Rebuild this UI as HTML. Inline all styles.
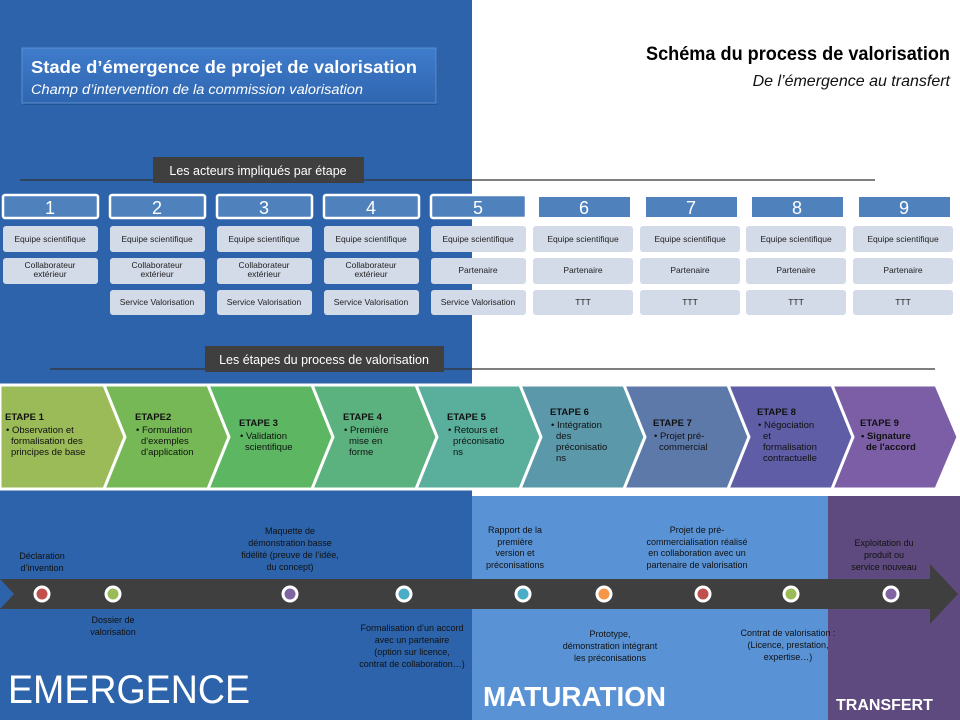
<!DOCTYPE html>
<html><head><meta charset="utf-8"><style>
html,body{margin:0;padding:0;background:#fff}
svg{display:block}
text{font-family:"Liberation Sans",sans-serif}
</style></head><body>
<svg width="960" height="720" viewBox="0 0 960 720" xmlns="http://www.w3.org/2000/svg">
<defs>
<linearGradient id="tg" x1="0" y1="0" x2="0" y2="1"><stop offset="0" stop-color="#3f7ccc"/><stop offset="1" stop-color="#2f66b0"/></linearGradient>
</defs>
<rect x="0" y="0" width="960" height="720" fill="#fff"/>
<rect x="0" y="0" width="472" height="384" fill="#2c63aa"/>
<rect x="0" y="490" width="472" height="230" fill="#2c63aa"/>
<rect x="472" y="496" width="356" height="224" fill="#5993d6"/>
<rect x="828" y="496" width="132" height="224" fill="#5e4a7e"/>

<rect x="23" y="50" width="414" height="55" fill="#1d4a85" opacity="0.6"/>
<rect x="22" y="48" width="414" height="55" fill="url(#tg)" stroke="#5e8fd0" stroke-width="1"/>
<text x="31" y="73" font-size="17.5" font-weight="bold" fill="#fff" textLength="386" lengthAdjust="spacingAndGlyphs">Stade d’émergence de projet de valorisation</text>
<text x="31" y="94" font-size="13.5" font-style="italic" fill="#fff" textLength="332" lengthAdjust="spacingAndGlyphs">Champ d’intervention de la commission valorisation</text>

<text x="646" y="60" font-size="19" font-weight="bold" fill="#000" textLength="304" lengthAdjust="spacingAndGlyphs">Schéma du process de valorisation</text>
<text x="950" y="86" font-size="16" font-style="italic" fill="#111" text-anchor="end">De l’émergence au transfert</text>

<line x1="20" y1="180" x2="875" y2="180" stroke="#333" stroke-width="1.2"/>
<rect x="153" y="157" width="211" height="26" fill="#3f3f3f"/>
<text x="258" y="175" font-size="12.5" fill="#fff" text-anchor="middle">Les acteurs impliqués par étape</text>
<line x1="50" y1="369" x2="935" y2="369" stroke="#333" stroke-width="1.2"/>
<rect x="205" y="346" width="239" height="26" fill="#3f3f3f"/>
<text x="324" y="364" font-size="12.5" fill="#fff" text-anchor="middle">Les étapes du process de valorisation</text>

<g font-size="9" text-anchor="middle">
<rect x="3" y="195" width="95" height="23" fill="#4f81bd" stroke="#fff" stroke-width="2.5" rx="2"/>
<rect x="110" y="195" width="95" height="23" fill="#4f81bd" stroke="#fff" stroke-width="2.5" rx="2"/>
<rect x="217" y="195" width="95" height="23" fill="#4f81bd" stroke="#fff" stroke-width="2.5" rx="2"/>
<rect x="324" y="195" width="95" height="23" fill="#4f81bd" stroke="#fff" stroke-width="2.5" rx="2"/>
<rect x="431" y="195" width="95" height="23" fill="#4f81bd" stroke="#fff" stroke-width="2.5" rx="2"/>
<rect x="539" y="197" width="91" height="20" fill="#4f81bd"/>
<rect x="646" y="197" width="91" height="20" fill="#4f81bd"/>
<rect x="752" y="197" width="91" height="20" fill="#4f81bd"/>
<rect x="859" y="197" width="91" height="20" fill="#4f81bd"/>
<g font-size="18" fill="#fff">
<text x="50" y="214">1</text><text x="157" y="214">2</text><text x="264" y="214">3</text><text x="371" y="214">4</text><text x="478" y="214">5</text>
<text x="584" y="214">6</text><text x="691" y="214">7</text><text x="797" y="214">8</text><text x="904" y="214">9</text>
</g>
<g fill="#d3dbe9">
<rect x="3" y="226" width="95" height="26" rx="3"/><rect x="3" y="258" width="95" height="26" rx="3"/>
<rect x="110" y="226" width="95" height="26" rx="3"/><rect x="110" y="258" width="95" height="26" rx="3"/><rect x="110" y="290" width="95" height="25" rx="3"/>
<rect x="217" y="226" width="95" height="26" rx="3"/><rect x="217" y="258" width="95" height="26" rx="3"/><rect x="217" y="290" width="95" height="25" rx="3"/>
<rect x="324" y="226" width="95" height="26" rx="3"/><rect x="324" y="258" width="95" height="26" rx="3"/><rect x="324" y="290" width="95" height="25" rx="3"/>
<rect x="431" y="226" width="95" height="26" rx="3"/><rect x="431" y="258" width="95" height="26" rx="3"/><rect x="431" y="290" width="95" height="25" rx="3"/>
<rect x="533" y="226" width="100" height="26" rx="3"/><rect x="533" y="258" width="100" height="26" rx="3"/><rect x="533" y="290" width="100" height="25" rx="3"/>
<rect x="640" y="226" width="100" height="26" rx="3"/><rect x="640" y="258" width="100" height="26" rx="3"/><rect x="640" y="290" width="100" height="25" rx="3"/>
<rect x="746" y="226" width="100" height="26" rx="3"/><rect x="746" y="258" width="100" height="26" rx="3"/><rect x="746" y="290" width="100" height="25" rx="3"/>
<rect x="853" y="226" width="100" height="26" rx="3"/><rect x="853" y="258" width="100" height="26" rx="3"/><rect x="853" y="290" width="100" height="25" rx="3"/>
</g>
<g fill="#222" font-size="8.5">
<text x="50" y="242">Equipe scientifique</text><text x="50" y="268">Collaborateur</text><text x="50" y="277">extérieur</text>
<text x="157" y="242">Equipe scientifique</text><text x="157" y="268">Collaborateur</text><text x="157" y="277">extérieur</text><text x="157" y="305">Service Valorisation</text>
<text x="264" y="242">Equipe scientifique</text><text x="264" y="268">Collaborateur</text><text x="264" y="277">extérieur</text><text x="264" y="305">Service Valorisation</text>
<text x="371" y="242">Equipe scientifique</text><text x="371" y="268">Collaborateur</text><text x="371" y="277">extérieur</text><text x="371" y="305">Service Valorisation</text>
<text x="478" y="242">Equipe scientifique</text><text x="478" y="273">Partenaire</text><text x="478" y="305">Service Valorisation</text>
<text x="583" y="242">Equipe scientifique</text><text x="583" y="273">Partenaire</text><text x="583" y="305">TTT</text>
<text x="690" y="242">Equipe scientifique</text><text x="690" y="273">Partenaire</text><text x="690" y="305">TTT</text>
<text x="796" y="242">Equipe scientifique</text><text x="796" y="273">Partenaire</text><text x="796" y="305">TTT</text>
<text x="903" y="242">Equipe scientifique</text><text x="903" y="273">Partenaire</text><text x="903" y="305">TTT</text>
</g>
</g>

<g stroke="#fff" stroke-width="3">
<polygon points="0,385 104,385 125,437 104,489 0,489" fill="#9bbb59"/>
<polygon points="104,385 208,385 229,437 208,489 104,489 125,437" fill="#76b856"/>
<polygon points="208,385 312,385 333,437 312,489 208,489 229,437" fill="#5db662"/>
<polygon points="312,385 416,385 437,437 416,489 312,489 333,437" fill="#5cb27f"/>
<polygon points="416,385 520,385 541,437 520,489 416,489 437,437" fill="#5aae9c"/>
<polygon points="520,385 624,385 645,437 624,489 520,489 541,437" fill="#5b98aa"/>
<polygon points="624,385 728,385 749,437 728,489 624,489 645,437" fill="#5c79aa"/>
<polygon points="728,385 832,385 853,437 832,489 728,489 749,437" fill="#5f5da6"/>
<polygon points="832,385 936,385 958,437 936,489 832,489 853,437" fill="#7c5ea7"/>
</g>
<g font-size="9.5" fill="#111">
<text x="5" y="420" font-weight="bold">ETAPE 1</text>
<text x="6" y="433">• Observation et</text><text x="11" y="444">formalisation des</text><text x="11" y="455">principes de base</text>
<text x="135" y="420" font-weight="bold">ETAPE2</text>
<text x="136" y="433">• Formulation</text><text x="141" y="444">d'exemples</text><text x="141" y="455">d'application</text>
<text x="239" y="426" font-weight="bold">ETAPE 3</text>
<text x="240" y="439">• Validation</text><text x="245" y="450">scientifique</text>
<text x="343" y="420" font-weight="bold">ETAPE 4</text>
<text x="344" y="433">• Première</text><text x="349" y="444">mise en</text><text x="349" y="455">forme</text>
<text x="447" y="420" font-weight="bold">ETAPE 5</text>
<text x="448" y="433">• Retours et</text><text x="453" y="444">préconisatio</text><text x="453" y="455">ns</text>
<text x="550" y="415" font-weight="bold">ETAPE 6</text>
<text x="551" y="428">• Intégration</text><text x="556" y="439">des</text><text x="556" y="450">préconisatio</text><text x="556" y="461">ns</text>
<text x="653" y="426" font-weight="bold">ETAPE 7</text>
<text x="654" y="439">• Projet pré-</text><text x="659" y="450">commercial</text>
<text x="757" y="415" font-weight="bold">ETAPE 8</text>
<text x="758" y="428">• Négociation</text><text x="763" y="439">et</text><text x="763" y="450">formalisation</text><text x="763" y="461">contractuelle</text>
<text x="860" y="426" font-weight="bold">ETAPE 9</text>
<text x="861" y="439" font-weight="bold">• Signature</text><text x="866" y="450" font-weight="bold">de l'accord</text>
</g>

<polygon points="0,579 930,579 930,564 958,594 930,624 930,609 0,609 14,594" fill="#3f3f3f"/>
<g stroke="#fff" stroke-width="3">
<circle cx="42" cy="594" r="7" fill="#c0504d"/>
<circle cx="113" cy="594" r="7" fill="#9bbb59"/>
<circle cx="290" cy="594" r="7" fill="#8064a2"/>
<circle cx="404" cy="594" r="7" fill="#4bacc6"/>
<circle cx="523" cy="594" r="7" fill="#4bacc6"/>
<circle cx="604" cy="594" r="7" fill="#f79646"/>
<circle cx="703" cy="594" r="7" fill="#c0504d"/>
<circle cx="791" cy="594" r="7" fill="#9bbb59"/>
<circle cx="891" cy="594" r="7" fill="#8064a2"/>
</g>
<g font-size="9" fill="#111" text-anchor="middle">
<text x="42" y="559">Déclaration</text><text x="42" y="571">d’invention</text>
<text x="113" y="623">Dossier de</text><text x="113" y="635">valorisation</text>
<text x="290" y="534">Maquette de</text><text x="290" y="546">démonstration basse</text><text x="290" y="558">fidélité (preuve de l’idée,</text><text x="290" y="570">du concept)</text>
<text x="412" y="631">Formalisation d’un accord</text><text x="412" y="643">avec un partenaire</text><text x="412" y="655">(option sur licence,</text><text x="412" y="667">contrat de collaboration…)</text>
<text x="515" y="533">Rapport de la</text><text x="515" y="545">première</text><text x="515" y="556">version et</text><text x="515" y="568">préconisations</text>
<text x="610" y="637">Prototype,</text><text x="610" y="649">démonstration intégrant</text><text x="610" y="661">les préconisations</text>
<text x="697" y="533">Projet de pré-</text><text x="697" y="545">commercialisation réalisé</text><text x="697" y="556">en collaboration avec un</text><text x="697" y="568">partenaire de valorisation</text>
<text x="788" y="636">Contrat de valorisation :</text><text x="788" y="648">(Licence, prestation,</text><text x="788" y="660">expertise…)</text>
<text x="884" y="546">Exploitation du</text><text x="884" y="558">produit ou</text><text x="884" y="570">service nouveau</text>
</g>
<text x="8" y="703" font-size="40" fill="#fff" textLength="242" lengthAdjust="spacingAndGlyphs">EMERGENCE</text>
<text x="483" y="706" font-size="28" font-weight="bold" fill="#fff" textLength="183" lengthAdjust="spacingAndGlyphs">MATURATION</text>
<text x="836" y="710" font-size="16" font-weight="bold" fill="#fff">TRANSFERT</text>
</svg>
</body></html>
